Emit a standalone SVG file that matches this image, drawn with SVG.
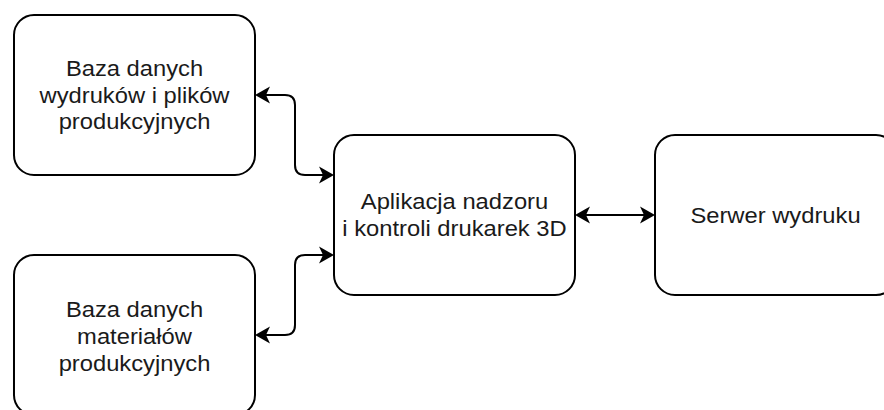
<svg xmlns="http://www.w3.org/2000/svg" width="884" height="410" viewBox="0 0 884 410">
  <style>
    .box { fill: #ffffff; stroke: #000000; stroke-width: 2; }
    .lbl { font-family: "Liberation Sans", Arial, sans-serif; font-size: 22px; fill: #1a1a1a; text-anchor: middle; }
    .link { fill: none; stroke: #000000; stroke-width: 2; marker-start: url(#arrow); marker-end: url(#arrow); }
  </style>
  <defs>
    <marker id="arrow" markerUnits="userSpaceOnUse" viewBox="-1 -10 18 20" markerWidth="18" markerHeight="20" refX="4" refY="0" orient="auto-start-reverse">
      <path d="M0,-8.5 L15,0 L0,8.5 L4,0 Z" fill="#000000"/>
    </marker>
  </defs>

  <rect width="884" height="410" fill="#ffffff"/>

  <!-- connectors -->
  <g id="connectors">
    <path class="link" d="M266,95 H285 Q295,95 295,105 V165 Q295,175 305,175 H323"/>
    <path class="link" d="M323,255 H305 Q295,255 295,265 V325 Q295,335 285,335 H266"/>
    <path class="link" d="M586,215 H644"/>
  </g>

  <!-- print & production file database -->
  <g id="db-prints">
    <rect class="box" x="14" y="15" width="241" height="160" rx="20" ry="20"/>
    <g transform="translate(134.5 0) scale(1.08 1)">
      <text class="lbl" x="0" y="76.5">Baza danych</text>
      <text class="lbl" x="0" y="103">wydruków i plików</text>
      <text class="lbl" x="0" y="129.5">produkcyjnych</text>
    </g>
  </g>

  <!-- production materials database -->
  <g id="db-materials">
    <rect class="box" x="14" y="255" width="241" height="160" rx="20" ry="20"/>
    <g transform="translate(134.5 0) scale(1.08 1)">
      <text class="lbl" x="0" y="317">Baza danych</text>
      <text class="lbl" x="0" y="344">materiałów</text>
      <text class="lbl" x="0" y="371">produkcyjnych</text>
    </g>
  </g>

  <!-- monitoring application -->
  <g id="app">
    <rect class="box" x="334" y="135" width="241" height="160" rx="20" ry="20"/>
    <g transform="translate(454.5 0) scale(1.08 1)">
      <text class="lbl" x="0" y="209.5">Aplikacja nadzoru</text>
      <text class="lbl" x="0" y="236.5">i kontroli drukarek 3D</text>
    </g>
  </g>

  <!-- print server -->
  <g id="print-server">
    <rect class="box" x="655" y="135" width="241" height="160" rx="20" ry="20"/>
    <g transform="translate(775.5 0) scale(1.08 1)">
      <text class="lbl" x="0" y="223">Serwer wydruku</text>
    </g>
  </g>
</svg>
